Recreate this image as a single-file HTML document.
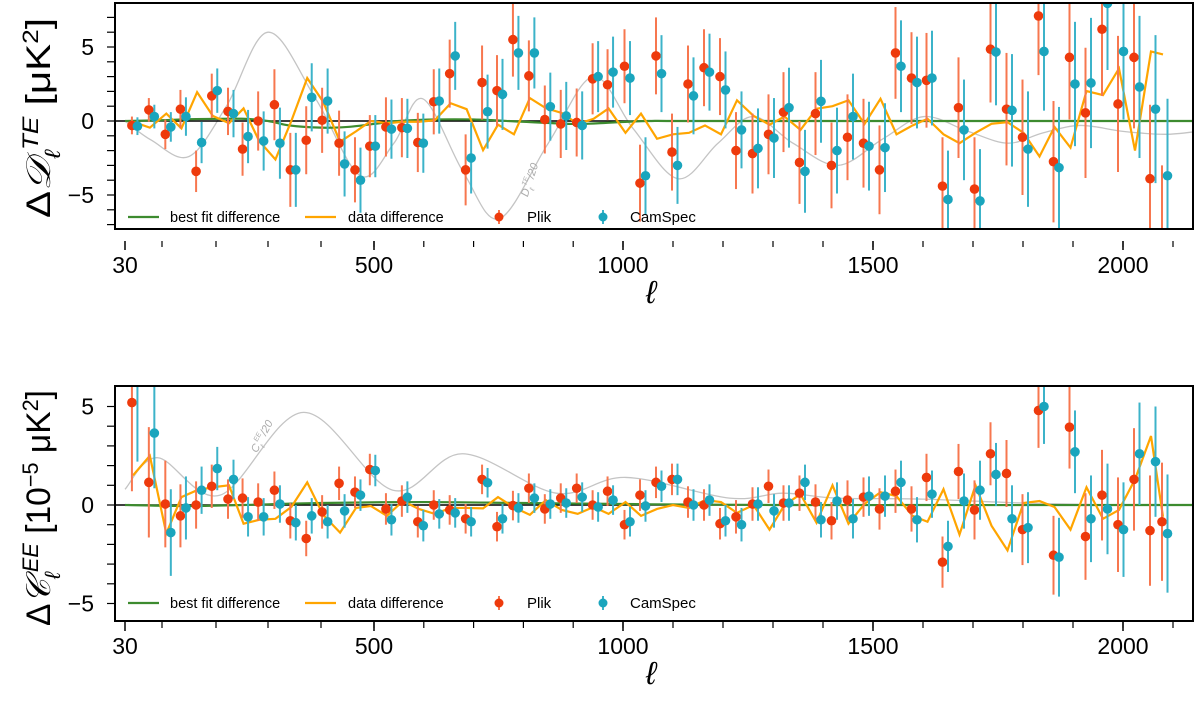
<!DOCTYPE html>
<html><head><meta charset="utf-8"><style>
html,body{margin:0;padding:0;background:#fff;}
svg{display:block;}
text{font-family:"Liberation Sans",sans-serif;}
</style></head><body>
<svg id="chart" width="1200" height="705" viewBox="0 0 1200 705" xmlns="http://www.w3.org/2000/svg">
<defs>
<clipPath id="clipTop"><rect x="116" y="4" width="1077" height="224"/></clipPath>
<clipPath id="clipBot"><rect x="116" y="387" width="1077" height="233"/></clipPath>
</defs>
<g id="top"></g>
<g id="bot"></g>
</svg>
<script>
// ---- data ----
const ells = [45,77,108,136,165,194,225,253,283,314,344,374,404,436,466,494,526,558,590,622,654,686,719,749,781,813,845,877,909,941,971,1005,1036,1068,1100,1132,1164,1196,1228,1261,1293,1323,1355,1387,1419,1451,1483,1515,1547,1579,1609,1641,1673,1705,1737,1769,1801,1833,1863,1895,1927,1960,1992,2024,2056,2080];
const plikTE = [-0.3,0.75,-0.9,0.8,-3.4,1.7,0.65,-1.9,0,1.1,-3.3,-1.3,0.05,-1.5,-3.3,-1.7,-0.4,
 -0.45,-1.45,1.3,3.2,-3.3,2.6,2.05,5.5,3.05,0.1,-0.2,-0.1,2.85,2.45,3.7,-4.2,4.4,-2.1,2.5,3.6,3.0,-2.0,-2.2,-0.9,0.6,
 -2.8,0.5,-3.0,-1.1,-1.5,-3.3,4.6,2.9,2.75,-4.4,0.9,-4.6,4.85,0.8,-1.1,7.1,-2.75,4.3,0.55,6.2,1.15,4.3,-3.9,-8.2];
const camsTE = [-0.35,0.3,-0.4,0.3,-1.45,2.05,0.5,-1.05,-1.35,-1.5,-3.3,1.6,1.35,-2.9,-4.0,-1.7,-0.55,
 -0.5,-1.5,1.35,4.4,-2.5,0.63,1.8,4.6,4.6,0.97,0.34,-0.3,3.0,3.3,2.9,-3.7,3.2,-3.0,1.7,3.3,2.1,-0.6,-1.85,-1.15,0.9,
 -3.4,1.33,-2.0,0.3,-1.7,-1.8,3.7,2.6,2.9,-5.3,-0.6,-5.4,4.66,0.72,-1.9,4.7,-3.15,2.5,2.57,7.95,4.7,2.3,0.8,-3.7];
const errTE = [0.6,0.8,1.0,1.3,1.4,1.5,1.6,1.8,2.0,2.4,2.5,2.3,2.2,2.2,2.2,2.1,2.0,
 2.0,2.0,2.2,2.3,2.4,2.5,2.4,2.5,2.4,2.3,2.3,2.3,2.4,2.4,2.5,2.6,2.6,2.6,2.6,2.6,2.6,2.6,2.7,2.7,2.7,
 2.8,2.8,2.9,2.9,3.0,3.0,3.1,3.1,3.2,3.3,3.4,3.5,3.6,3.8,3.9,4.0,4.1,4.2,4.4,4.5,4.6,4.8,5.0,5.2];
const plikEE = [5.2,1.15,0.05,-0.55,0,0.95,0.3,0.35,0.15,0.75,-0.8,-1.7,-0.35,1.1,0.65,1.8,-0.2,0.2,-0.85,0,-0.25,-0.7,
 1.3,-1.1,-0.03,0.85,-0.2,0.35,0.85,0,0.7,-1.0,0.5,1.15,1.3,0.15,0,-0.95,-0.6,0.05,0.95,0.1,0.6,0.15,-0.8,
 0.25,0.4,-0.2,0.7,-0.2,1.4,-2.9,1.7,-0.25,2.6,1.6,-1.25,4.8,-2.55,3.95,-1.6,0.5,-1.0,1.3,-1.3,-0.85];
const camsEE = [6.7,3.65,-1.4,-0.15,0.75,1.85,1.3,-0.6,-0.6,0.05,-0.9,-0.55,-0.85,-0.3,0.5,1.75,-0.75,0.4,-1.05,-0.45,-0.4,-0.85,
 1.13,-0.7,-0.15,0.35,0.05,0.1,0.4,-0.1,0.25,-0.85,-0.05,0.95,1.3,0,0.25,-0.8,-1.0,0.05,-0.3,0.1,1.15,-0.75,0.2,
 -0.7,0.45,0.45,1.15,-0.75,0.55,-2.1,0.2,0.75,1.55,-0.7,-1.15,5.0,-2.65,2.7,-0.7,-0.2,-1.25,2.6,2.2,-1.45];
const errEE = [4.5,2.8,2.2,1.6,1.2,1.1,1.0,1.0,0.95,0.95,0.9,0.9,0.85,0.85,0.8,0.8,0.8,0.8,0.8,0.75,0.75,0.75,
 0.75,0.75,0.75,0.75,0.75,0.75,0.75,0.75,0.75,0.75,0.8,0.8,0.8,0.8,0.8,0.8,0.85,0.85,0.85,0.9,0.9,0.9,0.95,
 1.0,1.0,1.05,1.1,1.15,1.2,1.3,1.4,1.5,1.6,1.7,1.8,1.9,2.0,2.1,2.2,2.3,2.4,2.6,2.8,3.0];
const fitTEl = [30,100,150,250,300,340,400,450,500,550,620,700,800,900,950,1050,1200,2150];
const fitTEv = [0,0.05,0.12,0.15,0,-0.3,-0.45,-0.4,-0.2,0,0.1,0.1,-0.05,-0.2,-0.15,0,0,0];
const fitEEl = [30,150,250,400,600,800,1000,1300,2150];
const fitEEv = [0,-0.05,0,0.1,0.15,0.1,0.05,0,0];
const theoTEl = [30,80,150,220,300,390,474,540,598,680,752,850,940,1020,1110,1190,1260,1340,1430,1520,1602,1690,1770,1840,1915,2000,2085,2150];
const theoTEv = [0,-1.3,-2.4,1.0,6.0,1.5,-3.7,-1.5,1.5,-3.5,-6.6,-1.5,3.0,-0.5,-3.9,-1.5,0.3,-1.5,-3.0,-1.2,0.3,-0.7,-1.5,-0.8,-0.3,-0.7,-0.9,-0.7];
const theoEEl = [30,92,208,367,538,678,866,1006,1213,1319,1427,1600,1800,2000,2150];
const theoEEv = [0.8,2.4,0.5,4.7,0.75,2.6,0.6,1.4,0.35,0.6,0.35,0.3,0.1,0,0];
const xTickVals = [30,500,1000,1500,2000];
// ---- axis ----
const LK=[30,100,200,300,400,500,1000,1500,2000], PX=[125,162,216,268,321,374,623,873,1123];
function X(l){
  if(l<=LK[0]) return PX[0]+(l-LK[0])*(PX[1]-PX[0])/(LK[1]-LK[0]);
  for(let i=1;i<LK.length;i++){ if(l<=LK[i]) return PX[i-1]+(l-LK[i-1])*(PX[i]-PX[i-1])/(LK[i]-LK[i-1]); }
  return PX[PX.length-1]+(l-2000)*0.5;
}
const NS="http://www.w3.org/2000/svg";
function mk(tag,attrs,parent){const e=document.createElementNS(NS,tag);for(const k in attrs)e.setAttribute(k,attrs[k]);parent.appendChild(e);return e;}
function smooth(pts){
  let d="M"+pts[0][0]+","+pts[0][1];
  for(let i=0;i<pts.length-1;i++){
    const p0=pts[Math.max(0,i-1)],p1=pts[i],p2=pts[i+1],p3=pts[Math.min(pts.length-1,i+2)];
    const c1=[p1[0]+(p2[0]-p0[0])/6,p1[1]+(p2[1]-p0[1])/6],c2=[p2[0]-(p3[0]-p1[0])/6,p2[1]-(p3[1]-p1[1])/6];
    d+="C"+c1+" "+c2+" "+p2;
  }
  return d;
}
function panel(g,cfg){
  const Y=v=>cfg.y0-cfg.k*v;
  const clip=mk('g',{'clip-path':'url(#'+cfg.clip+')'},g);
  // theory
  const tp=mk('path',{d:smooth(cfg.thL.map((l,i)=>[X(l),Y(cfg.thV[i])])),fill:'none',stroke:'#c4c4c4','stroke-width':1.3},clip);
  
  
  // zero line
  const z=mk('line',{x1:116,x2:1193,y1:Y(0),y2:Y(0),stroke:'#000','stroke-width':1.5},clip);
  
  
  // best fit
  const bf=mk('path',{d:smooth(cfg.fL.map((l,i)=>[X(l),Y(cfg.fV[i])])),fill:'none',stroke:'#3d8b2f','stroke-width':2.2},clip);
  
  
  // data difference
  const dd=mk('polyline',{points:ells.map((l,i)=>X(l)+","+Y(cfg.cams[i]-cfg.plik[i])).join(" "),fill:'none',stroke:'#ffa500','stroke-width':2.2},clip);
  
  
  // points
  ells.forEach((l,i)=>{
    const x=X(l)-1;
    const b=mk('line',{x1:x,x2:x,y1:Y(cfg.plik[i]-cfg.err[i]),y2:Y(cfg.plik[i]+cfg.err[i]),stroke:'#f7774f','stroke-width':2},clip);
    
    
    const c=mk('circle',{cx:x,cy:Y(cfg.plik[i]),r:4.8,fill:'#ee3a0c'},clip);
    
    
    const x2=X(l)+4.5;
    const b2=mk('line',{x1:x2,x2:x2,y1:Y(cfg.cams[i]-cfg.err[i]),y2:Y(cfg.cams[i]+cfg.err[i]),stroke:'#3cb3c9','stroke-width':2},clip);
    
    
    const c2=mk('circle',{cx:x2,cy:Y(cfg.cams[i]),r:4.8,fill:'#1aa5bd'},clip);
    
    
  });
  // theory label
  const tl=mk('text',{x:0,y:0,transform:'translate('+cfg.lab[0]+','+cfg.lab[1]+') rotate('+cfg.lab[2]+')','font-size':11,fill:'#aaa','font-style':'italic','font-family':'Liberation Serif, serif','text-anchor':'middle'},g);
  tl.innerHTML=cfg.labText;
  
  
  // frame
  const fr=mk('rect',{x:115,y:cfg.top,width:1078,height:cfg.bottom-cfg.top,fill:'none',stroke:'#000','stroke-width':2},g);
  
  
  // y ticks
  for(let v=cfg.tmin;v<=cfg.tmax;v++){
    const t=mk('line',{x1:107,x2:115,y1:Y(v),y2:Y(v),stroke:'#000','stroke-width':1.2},g);
    
    
  }
  [5,0,-5].forEach(v=>{
    const t=mk('text',{x:94,y:Y(v)+8,'font-size':23,'text-anchor':'end'},g);
    t.textContent=v<0?'\u22125':String(v);
    
    
  });
  // x ticks
  for(let l=100;l<=2100;l+=100){
    const t=mk('line',{x1:X(l),x2:X(l),y1:cfg.tk,y2:cfg.tk+6,stroke:'#000','stroke-width':1.2},g);
    
    
  }
  xTickVals.forEach(l=>{
    const t=mk('line',{x1:X(l),x2:X(l),y1:cfg.tk,y2:cfg.tk+9,stroke:'#000','stroke-width':1.5},g);
    
    
    const s=mk('text',{x:X(l),y:cfg.tk+32,'font-size':23,'text-anchor':'middle'},g);
    s.textContent=String(l);
    
    
  });
  const xl=mk('text',{x:651,y:cfg.tk+62,'font-size':32,'font-style':'italic','font-family':'Liberation Serif, serif','text-anchor':'middle'},g);
  xl.textContent='\u2113';
  
  
  const yl=mk('text',{x:0,y:0,transform:'translate(50,'+cfg.ymid+') rotate(-90)','font-size':34,'font-family':'Liberation Serif, serif','text-anchor':'middle',textLength:cfg.ylen,lengthAdjust:'spacingAndGlyphs'},g);
  yl.innerHTML=cfg.ytitle;
  
  
  // legend
  const ly=cfg.leg;
  const lg=mk('g',{},g);
  
  
  mk('line',{x1:128,x2:159,y1:ly,y2:ly,stroke:'#3d8b2f','stroke-width':2.2},lg);
  let t=mk('text',{x:170,y:ly+5,'font-size':14.5,'font-family':'DejaVu Sans, sans-serif'},lg);t.textContent='best fit difference';
  
  
  mk('line',{x1:305,x2:336,y1:ly,y2:ly,stroke:'#ffa500','stroke-width':2.2},lg);
  t=mk('text',{x:348,y:ly+5,'font-size':14.5,'font-family':'DejaVu Sans, sans-serif'},lg);t.textContent='data difference';
  
  
  mk('line',{x1:499,x2:499,y1:ly-7,y2:ly+7,stroke:'#f7774f','stroke-width':2},lg);
  mk('circle',{cx:499,cy:ly,r:4.5,fill:'#ee3a0c'},lg);
  t=mk('text',{x:527,y:ly+5,'font-size':15,'font-family':'Liberation Mono, monospace'},lg);t.textContent='Plik';
  
  
  mk('line',{x1:603,x2:603,y1:ly-7,y2:ly+7,stroke:'#3cb3c9','stroke-width':2},lg);
  mk('circle',{cx:603,cy:ly,r:4.5,fill:'#1aa5bd'},lg);
  t=mk('text',{x:630,y:ly+5,'font-size':15,'font-family':'Liberation Mono, monospace'},lg);t.textContent='CamSpec';
  
  
}
panel(document.getElementById('top'),{y0:121,k:14.8,clip:'clipTop',top:3,bottom:229,tk:241,tmin:-7,tmax:7,leg:217,ymid:118,ylen:200,
  plik:plikTE,cams:camsTE,err:errTE,fL:fitTEl,fV:fitTEv,thL:theoTEl,thV:theoTEv,
  lab:[533,181,-72],labText:'<tspan font-style="italic">D</tspan><tspan font-size="7" dy="4">\u2113</tspan><tspan font-size="7" dy="-9">TE</tspan><tspan dy="5">/20</tspan>',
  ytitle:'\u0394<tspan font-style="italic">\uD835\uDC9F</tspan><tspan font-size="22" dy="10" font-style="italic">\u2113</tspan><tspan font-size="22" dy="-22" font-style="italic">TE</tspan><tspan dy="12"> [\u03BCK</tspan><tspan font-size="22" dy="-12">2</tspan><tspan dy="12">]</tspan>'});
panel(document.getElementById('bot'),{y0:505,k:19.7,clip:'clipBot',top:386,bottom:621,tk:622,tmin:-5,tmax:5,leg:603,ymid:508,ylen:236,
  plik:plikEE,cams:camsEE,err:errEE,fL:fitEEl,fV:fitEEv,thL:theoEEl,thV:theoEEv,
  lab:[265,438,-62],labText:'<tspan font-style="italic">C</tspan><tspan font-size="7" dy="4">\u2113</tspan><tspan font-size="7" dy="-9">EE</tspan><tspan dy="5">/20</tspan>',
  ytitle:'\u0394<tspan font-style="italic">\uD835\uDC9E</tspan><tspan font-size="22" dy="10" font-style="italic">\u2113</tspan><tspan font-size="22" dy="-22" font-style="italic">EE</tspan><tspan dy="12"> [10</tspan><tspan font-size="22" dy="-12">\u22125</tspan><tspan dy="12"> \u03BCK</tspan><tspan font-size="22" dy="-12">2</tspan><tspan dy="12">]</tspan>'});
</script>
</body></html>
